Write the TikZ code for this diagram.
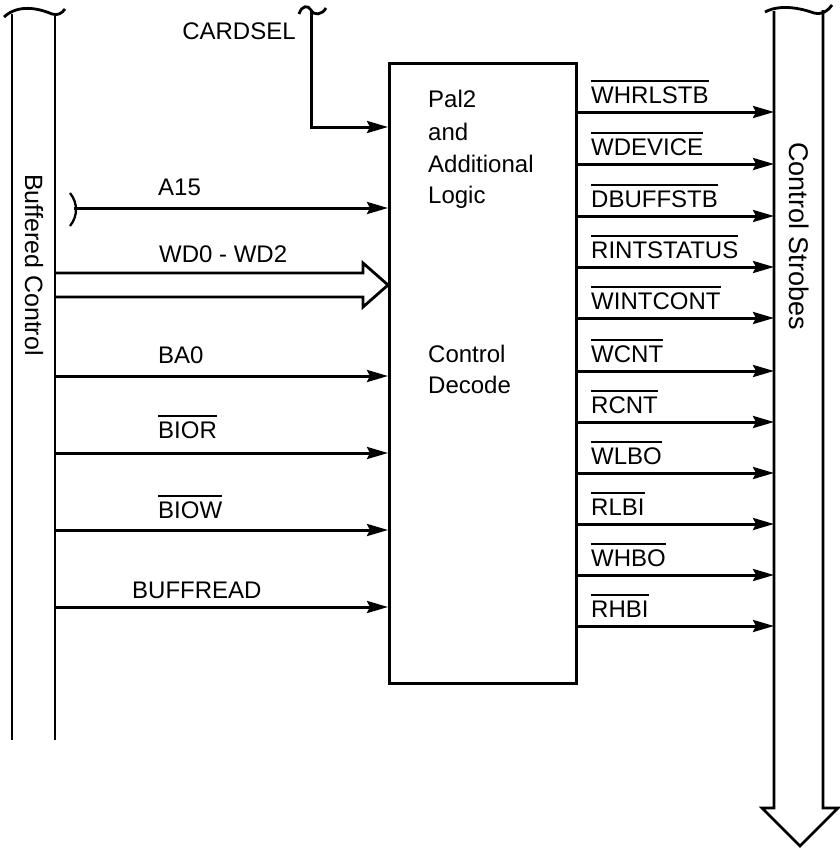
\documentclass[tikz,border=0pt]{standalone}
\usepackage{fontspec}
\setmainfont{Liberation Sans}
\usetikzlibrary{arrows.meta}
\newcommand\ovl[1]{\leavevmode\vbox{\hrule height 1.8pt\kern 4.5pt\hbox{#1}}}
\begin{document}
\begin{tikzpicture}[x=1pt,y=-1pt,
  lbl/.style={font=\fontsize{24}{32}\selectfont, inner sep=0pt},
  sig/.style={line width=3pt, -{Stealth[length=21pt,width=12pt,inset=3pt]}},
  bus/.style={line width=2.8pt, line join=miter}]
\useasboundingbox (0,0) rectangle (839,849);

% main box
\node[draw, line width=2.6pt, inner sep=0pt, minimum width=187pt, minimum height=620pt, anchor=north west] (box) at (388,62) {};
\node[lbl, anchor=base west] (pal) at (428,107) {Pal2};
\node[lbl, anchor=base west] (and) at (428,140) {and};
\node[lbl, anchor=base west] (addl) at (428,172) {Additional};
\node[lbl, anchor=base west] (logic) at (428,203) {Logic};
\node[lbl, anchor=base west] (ctrl) at (428,362) {Control};
\node[lbl, anchor=base west] (dec) at (428,393) {Decode};

% left bus
\coordinate (lbA) at (12,14);
\coordinate (lbB) at (55,14);
\coordinate (lbAe) at (12,740);
\coordinate (lbBe) at (55,740);
\draw[bus] (lbA) -- (lbAe);
\draw[bus] (lbB) -- (lbBe);
\draw[bus] (4,17) .. controls (18,4) and (38,8) .. (52,14) .. controls (58,16) and (62,13) .. (65,9);
\node[lbl, font=\fontsize{25}{32}\selectfont, rotate=-90] (bufc) at (34,265) {Buffered Control};

% right bus
\coordinate (rbA) at (774,11);
\coordinate (rbB) at (823,10);
\coordinate (rbAe) at (774,808);
\coordinate (rbBe) at (823,808);
\coordinate (tip) at (800,846);
\draw[bus] (rbA) -- (rbAe) -- (762,808) -- (tip) -- (838,808) -- (rbBe) -- (rbB);
\draw[bus] (765,12) .. controls (780,4) and (800,8) .. (814,13) .. controls (822,15) and (828,11) .. (832,5);
\node[lbl, font=\fontsize{27}{32}\selectfont, rotate=-90] (cstr) at (799,236) {Control Strobes};

% CARDSEL
\node[lbl] (cardsel) at (239,31) {CARDSEL};
\coordinate (csTop) at (311,10);
\coordinate (csBend) at (311,127);
\draw[bus] (299,14) .. controls (302,5) and (308,5) .. (311,10) .. controls (314,16) and (322,15) .. (326,8);
\draw[sig, line join=miter] (csTop) -- (csBend) -- (box.west |- csBend);

% A15
\coordinate (a15s) at (74,208);
\draw[line width=2.3pt] (70,193) .. controls (78,203) and (78,216) .. (70,226);
\draw[sig] (a15s) -- (box.west |- a15s);
\node[lbl, anchor=base west] (a15) at (158,195) {A15};

% WD0-WD2 hollow arrow
\coordinate (wdA) at (55,273);
\coordinate (wdB) at (55,297);
\draw[bus] (wdA) -- (363,273) -- (363,263) -- (box.west |- 0,285) -- (363,307) -- (363,297) -- (wdB);
\node[lbl, anchor=base west] (wd) at (159,262) {WD0 - WD2};

% other inputs
\foreach \nm/\y/\ty/\tx/\txt in {ba/376/363/158/BA0, bior/453/438/158/\ovl{BIOR}, biow/530/518/158/\ovl{BIOW}, bufr/607/598/132/BUFFREAD}{
  \coordinate (\nm s) at (55,\y);
  \draw[sig] (\nm s) -- (box.west |- \nm s);
  \node[lbl, anchor=base west] (\nm) at (\tx,\ty) {\txt};
}

% outputs
\foreach \nm/\y/\txt in {o1/112/WHRLSTB, o2/164/WDEVICE, o3/216/DBUFFSTB, o4/267/RINTSTATUS, o5/318/WINTCONT, o6/371/WCNT, o7/422/RCNT, o8/473/WLBO, o9/524/RLBI, o10/575/WHBO, o11/626/RHBI}{
  \coordinate (\nm e) at (774,\y);
  \draw[sig] (box.east |- \nm e) -- (\nm e);
  \node[lbl, anchor=base west] (\nm) at (591,\y-9) {\ovl{\txt}};
}
\end{tikzpicture}
\end{document}
